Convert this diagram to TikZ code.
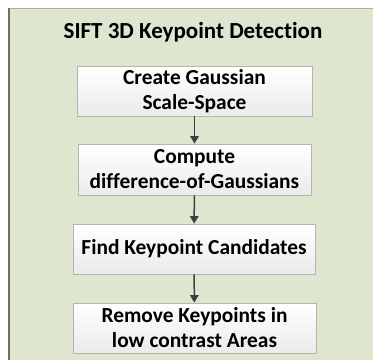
\documentclass[tikz,border=0pt]{standalone}
\usepackage{fontspec}
\setmainfont[Ligatures={NoCommon}]{Carlito}
\usetikzlibrary{arrows.meta}
\definecolor{panelbg}{HTML}{DFE6D0}
\definecolor{panelleft}{HTML}{6B7456}
\definecolor{paneltop}{HTML}{A9AE9F}
\definecolor{boxline}{HTML}{B4B4B4}
\definecolor{arrowc}{HTML}{3F3F3F}
\tikzset{
  stepbox/.style={draw=boxline, line width=0.8pt, top color=white, bottom color=white!92!black,
    minimum width=#1, minimum height=50pt, align=center, inner sep=0pt,
    font=\fontsize{21.4}{25}\selectfont\bfseries},
  flow/.style={draw=arrowc, line width=1.5pt, -{Triangle[length=7.5pt,width=8.5pt]}}
}
\begin{document}
\begin{tikzpicture}[x=1pt,y=-1pt]
  \useasboundingbox (0,0) rectangle (373,360);
  \fill[white] (0,0) rectangle (373,360);
  % backdrop panel
  \fill[panelbg] (8,8) rectangle (373,360);
  \draw[paneltop, line width=1.2pt] (8,8.6) -- (373,8.6);
  \draw[panelleft, line width=1.6pt] (8.8,8) -- (8.8,360);
  % title
  \node (title) at (193,32) {\fontsize{23}{26}\selectfont\bfseries SIFT 3D Keypoint Detection};
  % steps
  \node[stepbox=235pt] (s1) at (194.5,91) {Create Gaussian\\Scale-Space};
  \node[stepbox=233pt, minimum height=51pt] (s2) at (194.5,169.5) {Compute\\difference-of-Gaussians};
  \node[stepbox=242pt] (s3) at (194,249) {Find Keypoint Candidates};
  \node[stepbox=243pt] (s4) at (194.5,328) {Remove Keypoints in\\low contrast Areas};
  % connectors
  \draw[flow] (s1) -- (s2);
  \draw[flow] (s2) -- (s3);
  \draw[flow] (s3) -- (s4);
\end{tikzpicture}
\end{document}
